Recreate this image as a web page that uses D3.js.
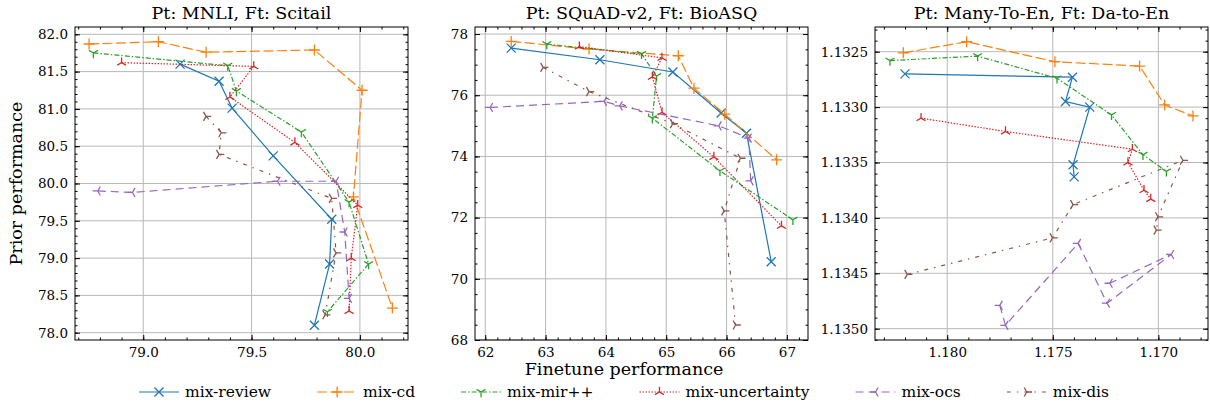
<!DOCTYPE html>
<html>
<head>
<meta charset="utf-8">
<script src="https://cdn.jsdelivr.net/npm/d3@7"></script>
<style>
  body { margin: 0; background: #fff; }
  svg { display: block; }
</style>
</head>
<body>
<div id="chart"></div>
<script>
// Series
var seriesNames = ["mix-review", "mix-cd", "mix-mir++", "mix-uncertainty", "mix-ocs", "mix-dis"];
var seriesColors = ["#1f77b4", "#ff7f0e", "#2ca02c", "#d62728", "#9467bd", "#8c564b"];

// Pt: MNLI, Ft: Scitail   [finetune, prior]
var scitailReview = [[79.17, 81.60], [79.35, 81.37], [79.41, 81.01], [79.60, 80.37], [79.87, 79.52], [79.86, 78.92], [79.79, 78.10]];
var scitailCd = [[78.75, 81.87], [79.07, 81.90], [79.29, 81.76], [79.79, 81.79], [80.01, 81.25], [79.97, 79.82], [80.15, 78.33]];
var scitailMir = [[78.77, 81.75], [79.39, 81.58], [79.43, 81.24], [79.73, 80.69], [79.95, 79.75], [80.04, 78.92], [79.85, 78.28]];
var scitailUnc = [[78.90, 81.62], [79.51, 81.57], [79.40, 81.16], [79.70, 80.55], [79.99, 79.71], [79.96, 79.00], [79.95, 78.29]];
var scitailOcs = [[78.79, 79.90], [78.95, 79.88], [79.62, 80.03], [79.89, 80.03], [79.93, 79.35], [79.95, 78.46]];
var scitailDis = [[79.29, 80.90], [79.36, 80.68], [79.35, 80.39], [79.87, 79.80], [79.89, 79.07], [79.84, 78.24]];

// Pt: SQuAD-v2, Ft: BioASQ
var bioasqReview = [[62.43, 77.54], [63.90, 77.16], [65.11, 76.76], [65.91, 75.42], [66.33, 74.76], [66.74, 70.56]];
var bioasqCd = [[62.43, 77.76], [63.72, 77.51], [65.20, 77.29], [65.46, 76.23], [65.97, 75.38], [66.83, 73.89]];
var bioasqMir = [[63.02, 77.67], [64.59, 77.35], [64.84, 76.63], [64.77, 75.25], [65.89, 73.53], [67.10, 71.93]];
var bioasqUnc = [[63.56, 77.59], [64.93, 77.22], [64.77, 76.60], [64.93, 75.44], [65.79, 73.98], [66.91, 71.73]];
var bioasqOcs = [[62.08, 75.60], [63.97, 75.80], [64.23, 75.65], [65.87, 75.00], [66.37, 74.60], [66.40, 73.20]];
var bioasqDis = [[62.96, 76.91], [63.72, 76.12], [65.11, 75.07], [66.23, 73.94], [65.96, 72.22], [66.15, 68.49]];

// Pt: Many-To-En, Ft: Da-to-En
var datoenReview = [[1.18200, 1.13270], [1.17407, 1.13273], [1.17440, 1.13295], [1.17325, 1.13300], [1.17404, 1.13352], [1.17399, 1.13363]];
var datoenCd = [[1.18208, 1.13251], [1.17908, 1.13241], [1.17490, 1.13259], [1.17089, 1.13263], [1.16970, 1.13298], [1.16836, 1.13308]];
var datoenMir = [[1.18271, 1.13258], [1.17856, 1.13254], [1.17480, 1.13274], [1.17222, 1.13307], [1.17073, 1.13343], [1.16962, 1.13358]];
var datoenUnc = [[1.18124, 1.13310], [1.17724, 1.13322], [1.17123, 1.13338], [1.17144, 1.13350], [1.17068, 1.13375], [1.17036, 1.13383]];
var datoenOcs = [[1.17751, 1.13479], [1.17724, 1.13497], [1.17380, 1.13423], [1.17243, 1.13477], [1.16939, 1.13433], [1.17230, 1.13459]];
var datoenDis = [[1.18189, 1.13451], [1.17501, 1.13418], [1.17404, 1.13388], [1.16884, 1.13348], [1.17002, 1.13399], [1.17009, 1.13411]];

// Ticks
var scitailXTicks = [79.0, 79.5, 80.0];
var scitailYTicks = [78.0, 78.5, 79.0, 79.5, 80.0, 80.5, 81.0, 81.5, 82.0];
var bioasqXTicks = [62, 63, 64, 65, 66, 67];
var bioasqYTicks = [68, 70, 72, 74, 76, 78];
var datoenXTicks = [1.180, 1.175, 1.170];
var datoenYTicks = [1.1325, 1.1330, 1.1335, 1.1340, 1.1345, 1.1350];

var panelTitles = ["Pt: MNLI, Ft: Scitail", "Pt: SQuAD-v2, Ft: BioASQ", "Pt: Many-To-En, Ft: Da-to-En"];

// Set up chart
var svgWidth = 1210;
var svgHeight = 410;
var font = "DejaVu Serif";

var panelW = 333, panelH = 313, panelTop = 27;

var panels = [
  { left: 75, xDomain: [78.685, 80.222], yDomain: [77.902, 82.098], xTicks: scitailXTicks, yTicks: scitailYTicks,
    xMinor: 0.1, yMinor: 0.1, xFmt: ".1f", yFmt: ".1f",
    series: [scitailReview, scitailCd, scitailMir, scitailUnc, scitailOcs, scitailDis] },
  { left: 475, xDomain: [61.83, 67.35], yDomain: [68, 78.23], xTicks: bioasqXTicks, yTicks: bioasqYTicks,
    xMinor: 0.2, yMinor: 0.5, xFmt: "d", yFmt: "d",
    series: [bioasqReview, bioasqCd, bioasqMir, bioasqUnc, bioasqOcs, bioasqDis] },
  { left: 875, xDomain: [1.18342, 1.16765], yDomain: [1.135102, 1.132277], xTicks: datoenXTicks, yTicks: datoenYTicks,
    xMinor: 0.001, yMinor: 0.0001, xFmt: ".3f", yFmt: ".4f",
    series: [datoenReview, datoenCd, datoenMir, datoenUnc, datoenOcs, datoenDis] }
];

// line style + marker per series
var dashes = ["none", "10,3.5", "5,2,1.5,2", "1.5,1.5", "8,5", "4,6,1.5,6"];
var markers = ["x", "plus", "tri_down", "tri_up", "tri_left", "tri_right"];

function markerPath(type) {
  var s = 4.5, p = 5.5, r = 5.2, c = 0.866 * r, h = 0.5 * r;
  switch (type) {
    case "x": return `M${-s},${-s}L${s},${s}M${-s},${s}L${s},${-s}`;
    case "plus": return `M${-p},0H${p}M0,${-p}V${p}`;
    case "tri_down": return `M0,0V${r}M0,0L${-c},${-h}M0,0L${c},${-h}`;
    case "tri_up": return `M0,0V${-r}M0,0L${-c},${h}M0,0L${c},${h}`;
    case "tri_left": return `M0,0H${-r}M0,0L${h},${-c}M0,0L${h},${c}`;
    case "tri_right": return `M0,0H${r}M0,0L${-h},${-c}M0,0L${-h},${c}`;
  }
}

var svg = d3.select("#chart")
  .append("svg")
  .attr("width", svgWidth)
  .attr("height", svgHeight)
  .style("font-family", font);

function minorTicks(domain, step) {
  var lo = Math.min(domain[0], domain[1]), hi = Math.max(domain[0], domain[1]);
  var out = [];
  for (var k = Math.ceil(lo / step - 1e-6); k * step <= hi + 1e-9; k++) out.push(+(k * step).toFixed(6));
  return out;
}

panels.forEach(function(p, i) {
  var g = svg.append("g").attr("transform", `translate(${p.left}, ${panelTop})`);
  var x = d3.scaleLinear().domain(p.xDomain).range([0, panelW]);
  var y = d3.scaleLinear().domain(p.yDomain).range([panelH, 0]);

  // grid
  g.append("g").selectAll("line").data(p.xTicks).enter().append("line")
    .attr("x1", d => x(d)).attr("x2", d => x(d)).attr("y1", 0).attr("y2", panelH)
    .attr("stroke", "#b8b8b8").attr("stroke-width", 1);
  g.append("g").selectAll("line").data(p.yTicks).enter().append("line")
    .attr("y1", d => y(d)).attr("y2", d => y(d)).attr("x1", 0).attr("x2", panelW)
    .attr("stroke", "#b8b8b8").attr("stroke-width", 1);

  // major axes (ticks point inward)
  g.append("g").attr("transform", `translate(0, ${panelH})`)
    .call(d3.axisBottom(x).tickValues(p.xTicks).tickFormat(d3.format(p.xFmt)).tickSizeInner(-5).tickSizeOuter(0).tickPadding(7));
  g.append("g")
    .call(d3.axisLeft(y).tickValues(p.yTicks).tickFormat(d3.format(p.yFmt)).tickSizeInner(-5).tickSizeOuter(0).tickPadding(7));
  g.append("g").call(d3.axisTop(x).tickValues(p.xTicks).tickFormat("").tickSizeInner(-5).tickSizeOuter(0));
  g.append("g").attr("transform", `translate(${panelW}, 0)`)
    .call(d3.axisRight(y).tickValues(p.yTicks).tickFormat("").tickSizeInner(-5).tickSizeOuter(0));

  // minor ticks
  var xm = minorTicks(p.xDomain, p.xMinor), ym = minorTicks(p.yDomain, p.yMinor);
  g.append("g").attr("transform", `translate(0, ${panelH})`)
    .call(d3.axisBottom(x).tickValues(xm).tickFormat("").tickSizeInner(-2.5).tickSizeOuter(0));
  g.append("g").call(d3.axisTop(x).tickValues(xm).tickFormat("").tickSizeInner(-2.5).tickSizeOuter(0));
  g.append("g").call(d3.axisLeft(y).tickValues(ym).tickFormat("").tickSizeInner(-2.5).tickSizeOuter(0));
  g.append("g").attr("transform", `translate(${panelW}, 0)`)
    .call(d3.axisRight(y).tickValues(ym).tickFormat("").tickSizeInner(-2.5).tickSizeOuter(0));

  g.selectAll(".domain").remove();
  g.selectAll(".tick line").attr("stroke", "#000").attr("stroke-width", 1);
  g.selectAll(".tick text").attr("font-family", font).attr("font-size", 13.5).attr("fill", "#000");

  // series
  p.series.forEach(function(data, s) {
    var line = d3.line().x(d => x(d[0])).y(d => y(d[1]));
    g.append("path").datum(data)
      .attr("d", line)
      .attr("fill", "none")
      .attr("stroke", seriesColors[s])
      .attr("stroke-width", 1.2)
      .attr("stroke-dasharray", dashes[s]);
    g.append("g").selectAll("path").data(data).enter().append("path")
      .attr("transform", d => `translate(${x(d[0])}, ${y(d[1])})`)
      .attr("d", markerPath(markers[s]))
      .attr("fill", "none")
      .attr("stroke", seriesColors[s])
      .attr("stroke-width", 1.3);
  });

  // frame
  g.append("rect").attr("width", panelW).attr("height", panelH)
    .attr("fill", "none").attr("stroke", "#000").attr("stroke-width", 1);

  // title
  g.append("text")
    .attr("x", panelW / 2).attr("y", -8)
    .attr("text-anchor", "middle")
    .attr("font-size", 17.5)
    .text(panelTitles[i]);
});

// axis labels
svg.append("text")
  .attr("transform", `translate(22, ${panelTop + panelH / 2}) rotate(-90)`)
  .attr("text-anchor", "middle")
  .attr("font-size", 17.5)
  .text("Prior performance");

svg.append("text")
  .attr("x", 624).attr("y", 375)
  .attr("text-anchor", "middle")
  .attr("font-size", 17.5)
  .text("Finetune performance");

// legend
var legend = svg.append("g");
var lx = 0;
var itemGap = 46;
seriesNames.forEach(function(name, s) {
  var item = legend.append("g").attr("transform", `translate(${lx}, 0)`);
  item.append("line").attr("x1", 0).attr("x2", 40).attr("y1", 0).attr("y2", 0)
    .attr("stroke", seriesColors[s]).attr("stroke-width", 1.2).attr("stroke-dasharray", dashes[s]);
  item.append("path").attr("transform", "translate(20, 0)").attr("d", markerPath(markers[s]))
    .attr("fill", "none").attr("stroke", seriesColors[s]).attr("stroke-width", 1.3);
  var t = item.append("text").attr("x", 46).attr("dy", "0.35em").attr("font-size", 15.5).text(name);
  lx += 46 + t.node().getComputedTextLength() + itemGap;
});
var legendW = lx - itemGap;
legend.attr("transform", `translate(${624 - legendW / 2}, 392)`);
</script>
</body>
</html>
